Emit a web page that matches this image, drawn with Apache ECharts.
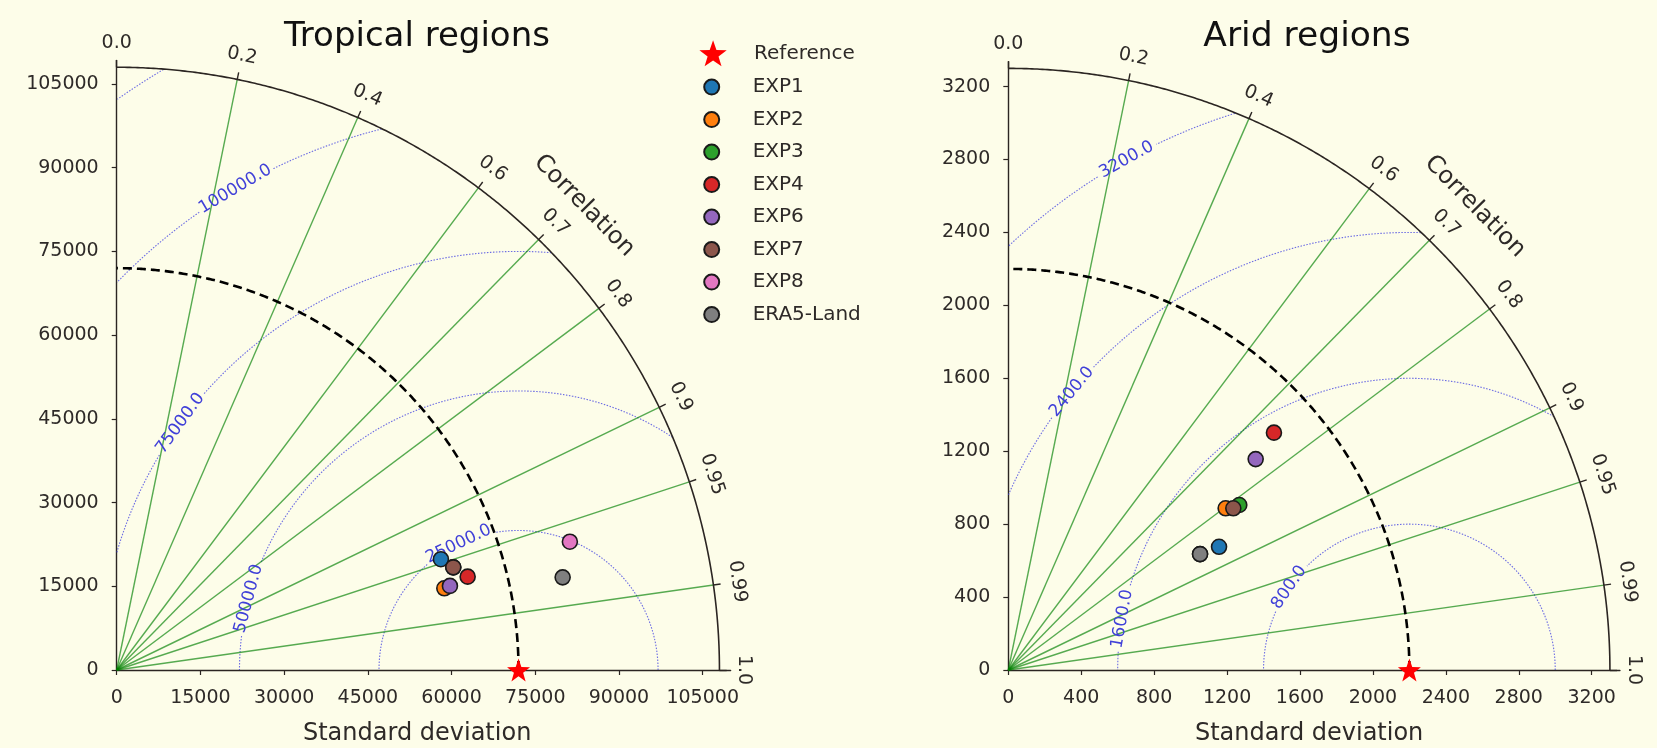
<!DOCTYPE html>
<html>
<head>
<meta charset="utf-8">
<script src="https://cdn.jsdelivr.net/npm/echarts@6/dist/echarts.min.js"></script>
<style>
html,body{margin:0;padding:0;background:#fdfde9;}
#c{width:1657px;height:748px;}
</style>
</head>
<body>
<div id="c"></div>
<script>
// ---------------- DATA ----------------
const seriesNames = ['EXP1', 'EXP2', 'EXP3', 'EXP4', 'EXP6', 'EXP7', 'EXP8', 'ERA5-Land'];
const seriesColors = ['#1f77b4', '#ff7f0e', '#2ca02c', '#d62728', '#9467bd', '#8c564b', '#e377c2', '#7f7f7f'];

// Tropical regions: standard deviation and correlation of each run
const tropicalRefStd = 72000;
const tropicalStd  = [61390, 60500, 63050, 65070, 61580, 63050, 84390, 81610];
const tropicalCorr = [0.9463, 0.9703, 0.9565, 0.9664, 0.9696, 0.9565, 0.9622, 0.9791];
const tropicalStdTicks = [0, 15000, 30000, 45000, 60000, 75000, 90000, 105000];
const tropicalRmsLevels = [25000, 50000, 75000, 100000, 125000];

// Arid regions
const aridRefStd = 2200;
const aridStd  = [1339, 1486, 1557, 1954, 1783, 1520, 1229, 1229];
const aridCorr = [0.8633, 0.8023, 0.8137, 0.7457, 0.7610, 0.8120, 0.8558, 0.8558];
const aridStdTicks = [0, 400, 800, 1200, 1600, 2000, 2400, 2800, 3200];
const aridRmsLevels = [800, 1600, 2400, 3200];

// Correlation axis
const corrTickLabels = ['0.0', '0.2', '0.4', '0.6', '0.7', '0.8', '0.9', '0.95', '0.99', '1.0'];
const corrGridValues = [0.2, 0.4, 0.6, 0.7, 0.8, 0.9, 0.95, 0.99];

// ---------------- LAYOUT / STYLE ----------------
const panels = [
  { title: 'Tropical regions', ref: tropicalRefStd, std: tropicalStd, corr: tropicalCorr,
    ticks: tropicalStdTicks, rms: tropicalRmsLevels, labelAngles: [115.4, 165.2, 143.9, 120.5, null],
    originX: 116.7, originY: 670, ppu: 0.005581, xMax: 110000, yMax: 109200, titleX: 417, titleSize: 34, nameShift: 13 },
  { title: 'Arid regions', ref: aridRefStd, std: aridStd, corr: aridCorr,
    ticks: aridStdTicks, rms: aridRmsLevels, labelAngles: [145.5, 169.9, 140.5, 119.0],
    originX: 1008.3, originY: 670, ppu: 0.18231, xMax: 3355, yMax: 3336, titleX: 1307, titleSize: 34.5, nameShift: 10 }
];
const FONT = 'DejaVu Sans';
const TXT = '#2e2a28';
const starPath = 'path://M0,-10L2.35,-3.24L9.51,-3.09L3.8,1.24L5.88,8.09L0,4L-5.88,8.09L-3.8,1.24L-9.51,-3.09L-2.35,-3.24Z';
const HIDDEN_DOT = { symbol: 'circle', symbolSize: 1, itemStyle: { color: 'rgba(0,0,0,0)', borderWidth: 0, opacity: 1 } };

function corrToXY(std, c) {
  return [std * c, std * Math.sqrt(Math.max(0, 1 - c * c))];
}
function polarXY(r, deg) {
  const t = deg * Math.PI / 180;
  return [r * Math.cos(t), r * Math.sin(t)];
}
function arc(r) {
  const pts = [];
  for (let a = 0; a <= 90.0001; a += 0.25) pts.push(polarXY(r, a));
  return pts;
}
const plainNum = v => String(v);

const grids = [], xAxes = [], yAxes = [], series = [], graphics = [];

panels.forEach((p, i) => {
  const rmax = 1.5 * p.ref;
  const w = p.xMax * p.ppu, h = p.yMax * p.ppu;
  grids.push({ left: p.originX, top: p.originY - h, width: w, height: h, outerBoundsMode: 'none', containLabel: false });
  const axisCommon = {
    type: 'value', gridIndex: i, min: 0,
    axisLine: { show: true, lineStyle: { color: '#2b2522', width: 1.4 } },
    axisTick: { show: true, inside: false, length: 5, lineStyle: { color: '#2b2522', width: 1.2 }, customValues: p.ticks },
    axisLabel: { show: true, fontSize: 19, color: TXT, fontFamily: FONT, customValues: p.ticks, formatter: plainNum },
    splitLine: { show: false }
  };
  xAxes.push(Object.assign({}, axisCommon, {
    max: p.xMax,
    axisLabel: Object.assign({}, axisCommon.axisLabel, { margin: 19 }),
    name: 'Standard deviation', nameLocation: 'middle', nameGap: 52,
    nameTextStyle: { fontSize: 24, color: TXT, fontFamily: FONT, padding: [0, p.nameShift, 0, 0] }
  }));
  yAxes.push(Object.assign({}, axisCommon, {
    max: p.yMax,
    axisLabel: Object.assign({}, axisCommon.axisLabel, { margin: 18 })
  }));

  const base = { coordinateSystem: 'cartesian2d', xAxisIndex: i, yAxisIndex: i, silent: true, animation: false };

  // correlation grid lines
  series.push(Object.assign({}, base, {
    type: 'lines', z: 2, clip: false,
    lineStyle: { color: 'rgba(0,128,0,0.66)', width: 1.4, opacity: 1 },
    data: corrGridValues.map(c => ({ coords: [[0, 0], corrToXY(rmax, c)] }))
  }));

  // RMS contours (with gaps for labels)
  const segs = [];
  const labelData = [];
  p.rms.forEach((R, k) => {
    const la = p.labelAngles[k];
    const txt = R.toFixed(1);
    const halfPx = txt.length * 0.6 * 17 / 2 + 2;
    const gapDeg = la == null ? 0 : (halfPx / (R * p.ppu)) * 180 / Math.PI;
    let cur = [];
    for (let a = 0; a <= 180.0001; a += 0.1) {
      const t = a * Math.PI / 180;
      const x = p.ref + R * Math.cos(t), y = R * Math.sin(t);
      const ok = x >= 0 && (x * x + y * y) <= rmax * rmax && !(la != null && Math.abs(a - la) < gapDeg);
      if (ok) cur.push([x, y]);
      else if (cur.length) { if (cur.length > 1) segs.push({ coords: cur }); cur = []; }
    }
    if (cur.length > 1) segs.push({ coords: cur });
    if (la != null) {
      const t = la * Math.PI / 180;
      labelData.push({ name: txt, value: [p.ref + R * Math.cos(t), R * Math.sin(t)], label: { rotate: la - 90 } });
    }
  });
  series.push(Object.assign({}, base, {
    type: 'lines', polyline: true, z: 1, clip: false,
    lineStyle: { color: 'rgba(60,60,225,0.75)', width: 1.1, type: [1.5, 1.5], opacity: 1 },
    data: segs
  }));
  series.push(Object.assign({}, base, HIDDEN_DOT, {
    type: 'scatter', z: 3, clip: false,
    label: { show: true, position: 'inside', formatter: '{b}', fontSize: 17, color: '#4040d8', opacity: 1, fontFamily: FONT },
    data: labelData
  }));

  // outer arc
  series.push(Object.assign({}, base, {
    type: 'lines', polyline: true, z: 4, clip: false,
    lineStyle: { color: '#2b2522', width: 1.6, opacity: 1 },
    data: [{ coords: arc(rmax) }]
  }));
  // tick marks on the arc
  series.push(Object.assign({}, base, {
    type: 'lines', z: 4, clip: false,
    lineStyle: { color: '#2b2522', width: 1.4, opacity: 1 },
    data: corrTickLabels.map(s => { const c = parseFloat(s); return { coords: [corrToXY(rmax, c), corrToXY(rmax * 1.012, c)] }; })
  }));
  // correlation tick labels
  series.push(Object.assign({}, base, HIDDEN_DOT, {
    type: 'scatter', z: 4, clip: false,
    label: { show: true, position: 'inside', formatter: '{b}', fontSize: 19, color: TXT, opacity: 1, fontFamily: FONT },
    data: corrTickLabels.map(s => {
      const c = parseFloat(s);
      const deg = Math.acos(c) * 180 / Math.PI;
      return { name: s, value: corrToXY(rmax * 1.04, c), label: { rotate: deg - 90 } };
    })
  }));
  // "Correlation" title
  series.push(Object.assign({}, base, HIDDEN_DOT, {
    type: 'scatter', z: 4, clip: false,
    label: { show: true, position: 'inside', formatter: '{b}', fontSize: 24, color: TXT, opacity: 1, fontFamily: FONT, rotate: -45.5 },
    data: [{ name: 'Correlation', value: polarXY(rmax * 1.093, 44.8) }]
  }));
  // reference std dashed arc
  series.push(Object.assign({}, base, {
    type: 'lines', polyline: true, z: 5, clip: false,
    lineStyle: { color: '#000000', width: 2.6, type: [9, 5], opacity: 1 },
    data: [{ coords: arc(p.ref) }]
  }));

  // experiment points
  seriesNames.forEach((n, j) => {
    series.push(Object.assign({}, base, {
      type: 'scatter', name: n, z: 10, clip: false,
      symbol: 'circle', symbolSize: 15,
      itemStyle: { color: seriesColors[j], borderColor: '#1a1a1a', borderWidth: 1.6, opacity: 1 },
      data: [corrToXY(p.std[j], p.corr[j])]
    }));
  });
  // reference star
  series.push(Object.assign({}, base, {
    type: 'scatter', name: 'Reference', z: 11, clip: false,
    symbol: starPath, symbolSize: 23,
    itemStyle: { color: '#ff0000', opacity: 1 },
    data: [[p.ref, 0]]
  }));

  graphics.push({
    type: 'text', x: p.titleX, y: 37, silent: true,
    style: { text: p.title, fontSize: p.titleSize, fill: '#111', fontFamily: FONT, align: 'center', verticalAlign: 'middle' }
  });
});

const chart = echarts.init(document.getElementById('c'), null, { renderer: 'canvas' });
chart.setOption({
  backgroundColor: '#fdfde9',
  animation: false,
  textStyle: { fontFamily: FONT },
  grid: grids,
  xAxis: xAxes,
  yAxis: yAxes,
  legend: [
    { data: ['Reference'], orient: 'vertical', left: 699.4, top: 40.3, padding: 0,
      itemWidth: 72, itemHeight: 26, selectedMode: false,
      textStyle: { fontSize: 20, color: TXT, fontFamily: FONT, lineHeight: 26 } },
    { data: seriesNames, orient: 'vertical', left: 703.2, top: 77.1, padding: 0,
      itemWidth: 72, itemHeight: 15, itemGap: 12.5, selectedMode: false,
      textStyle: { fontSize: 20, color: TXT, fontFamily: FONT, lineHeight: 15 } }
  ],
  graphic: graphics,
  series: series
});
</script>
</body>
</html>
